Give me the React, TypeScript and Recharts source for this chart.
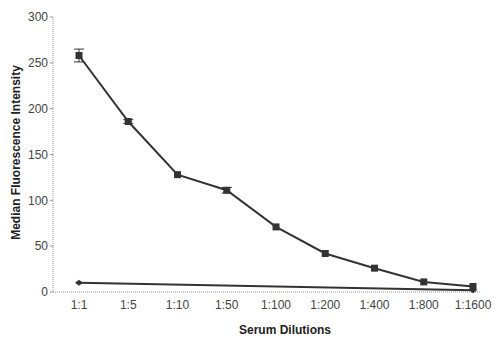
import React from 'react';
import { LineChart, Line, XAxis, YAxis, ErrorBar, Label } from 'recharts';

const categories = ['1:1', '1:5', '1:10', '1:50', '1:100', '1:200', '1:400', '1:800', '1:1600'];
const serumValues = [258, 186, 128, 111, 71, 42, 26, 11, 6];
const serumErrors = [7, 2, 0, 3, 0, 0, 0, 0, 0];
const controlValues: (number | null)[] = [10, null, null, null, null, null, null, null, 2];
const yTicks = [0, 50, 100, 150, 200, 250, 300];

const data = categories.map((c, i) => ({
  name: c,
  serum: serumValues[i],
  err: serumErrors[i],
  control: controlValues[i],
}));

const Square = (props: any) => {
  const { cx, cy } = props;
  if (cx == null || cy == null) return null;
  return <rect x={cx - 3.5} y={cy - 3.5} width={7} height={7} fill="#333" />;
};

const Diamond = (props: any) => {
  const { cx, cy, payload } = props;
  if (cx == null || cy == null || payload.control == null) return null;
  return <path d={`M${cx - 4},${cy} L${cx},${cy - 3} L${cx + 4},${cy} L${cx},${cy + 3} Z`} fill="#333" />;
};

const font = '"Liberation Sans", Arial, sans-serif';

export default function App() {
  return (
    <div style={{ position: 'absolute', left: 0, top: 0, background: '#fff', fontFamily: font }}>
      <LineChart width={495} height={338} data={data} margin={{ top: 17, right: 14, bottom: 0, left: 0 }}>
        <XAxis
          dataKey="name"
          height={46}
          padding={{ left: 26, right: 8 }}
          tick={{ fill: '#444', fontSize: 12, fontFamily: font }}
          tickLine={false}
          axisLine={{ stroke: '#999', strokeDasharray: '1 1' }}
          interval={0}
        >
          <Label value="Serum Dilutions" position="insideBottom" offset={4} dx={18} style={{ fontWeight: 'bold', fontSize: 12, fill: '#222', fontFamily: font }} />
        </XAxis>
        <YAxis
          width={53}
          domain={[0, 300]}
          ticks={yTicks}
          tick={{ fill: '#444', fontSize: 12, fontFamily: font }}
          tickLine={{ stroke: '#999' }}
          tickSize={3}
          axisLine={{ stroke: '#999', strokeDasharray: '1 1' }}
        >
          <Label value="Median Fluorescence Intensity" angle={-90} position="insideLeft" offset={16} dy={-2} style={{ textAnchor: 'middle', fontWeight: 'bold', fontSize: 12, fill: '#222', fontFamily: font }} />
        </YAxis>
        <Line dataKey="control" stroke="#333" strokeWidth={2} connectNulls dot={<Diamond />} isAnimationActive={false} />
        <Line dataKey="serum" stroke="#333" strokeWidth={2} dot={<Square />} isAnimationActive={false}>
          <ErrorBar dataKey="err" width={5} stroke="#333" strokeWidth={1} />
        </Line>
      </LineChart>
    </div>
  );
}
